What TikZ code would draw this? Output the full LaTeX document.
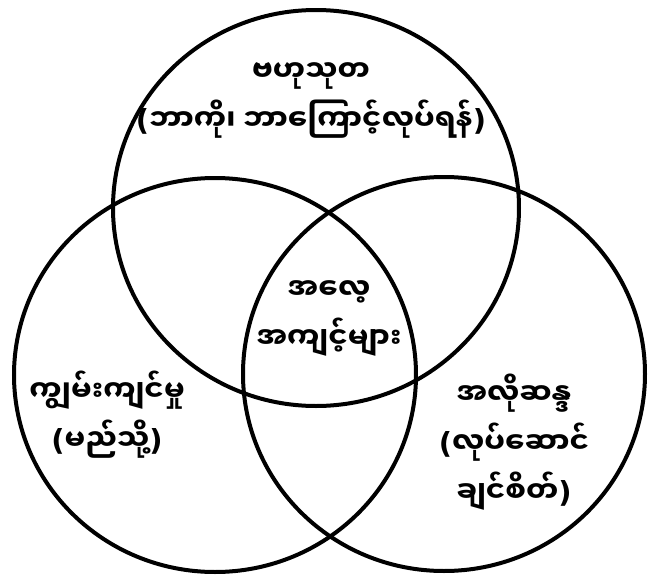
\documentclass[tikz,border=0pt]{standalone}
\usepackage{fontspec}
\newfontfamily\mmfont[Script=Myanmar]{Noto Sans Myanmar UI}
\newfontfamily\pfont{DejaVu Sans}
\newcommand{\lpar}{{\pfont(}}
\newcommand{\rpar}{{\pfont)}}
\tikzset{
  ring/.style={line width=4pt},
  lbl/.style={font=\mmfont\bfseries\fontsize{29}{49}\selectfont, align=center, inner sep=0pt}
}

\begin{document}
\begin{tikzpicture}[x=1pt, y=-1pt, line cap=round]
\useasboundingbox (0,0) rectangle (649,576);
% three circles
\draw[ring] (316,208) ellipse (203 and 198);
\draw[ring] (215,375) ellipse (201 and 197);
\draw[ring] (444,374) ellipse (201 and 197);
% labels
\node[lbl] (knowledge) at (311,100) {ဗဟုသုတ\\\lpar ဘာကို၊ ဘာကြောင့်လုပ်ရန်\rpar};
\node[lbl] (habits) at (329,318) {အလေ့\\အကျင့်များ};
\node[lbl] (skill) at (107,415) {ကျွမ်းကျင်မှု\\\lpar မည်သို့\rpar};
\node[lbl] (desire) at (514,442) {အလိုဆန္ဒ\\\lpar လုပ်ဆောင်\\ချင်စိတ်\rpar};
\end{tikzpicture}
\end{document}
